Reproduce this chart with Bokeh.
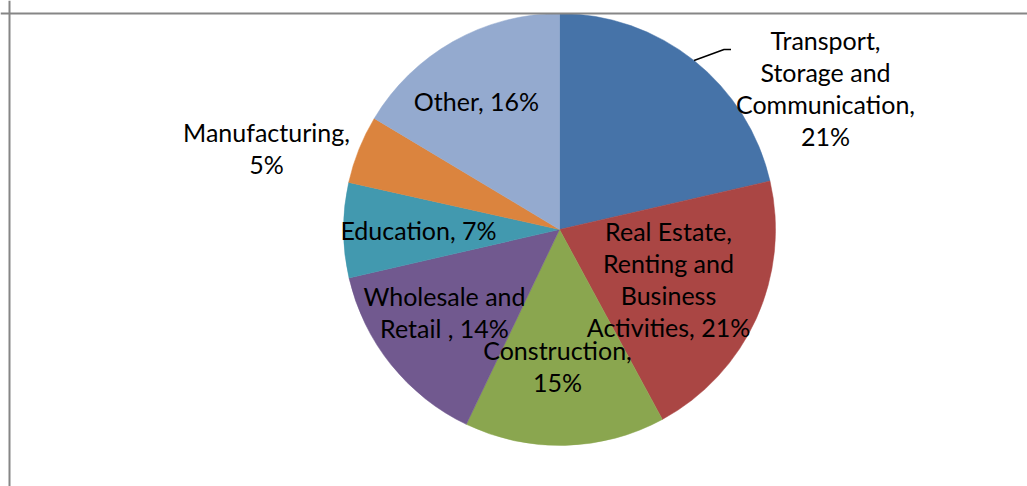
import math
from bokeh.plotting import figure
from bokeh.models import Range1d, ColumnDataSource, Span
from bokeh.core.properties import value
from bokeh.embed import file_html
from bokeh.resources import INLINE

# ---- data ----
categories = ["Transport, Storage and Communication", "Real Estate, Renting and Business Activities",
              "Construction", "Wholesale and Retail ", "Education", "Manufacturing", "Other"]
shares = [21.4, 20.7, 15.0, 14.3, 7.1, 5.1, 16.4]
label_lines = [["Transport,", "Storage and", "Communication,", "21%"],
               ["Real Estate,", "Renting and", "Business", "Activities, 21%"],
               ["Construction,", "15%"],
               ["Wholesale and", "Retail , 14%"],
               ["Education, 7%"],
               ["Manufacturing,", "5%"],
               ["Other, 16%"]]
colors = ["#4673A8", "#AA4644", "#8AA64F", "#71598F", "#4299AF", "#DB843E", "#94AACF"]

# ---- layout (pixels) ----
W, H = 1027, 486
cx, cy, R = 559, 257, 216
label_offsets = [(266, 142), (109, -49), (-2, -136), (-115, -82), (-141, 0), (-293, 82), (-83, 129)]
line_gap = 32

p = figure(width=W, height=H, output_backend="svg", toolbar_location=None,
           x_range=Range1d(0, W), y_range=Range1d(0, H), min_border=0)
p.axis.visible = False
p.grid.visible = False
p.outline_line_color = None

total = sum(shares)
starts, ends, mids = [], [], []
c = 0.0
for s in shares:
    a0 = math.pi / 2 - 2 * math.pi * c / total
    c += s
    a1 = math.pi / 2 - 2 * math.pi * c / total
    starts.append(a0); ends.append(a1); mids.append((a0 + a1) / 2)

src = ColumnDataSource(dict(x=[cx] * len(shares), y=[cy] * len(shares),
                            start=starts, end=ends, color=colors, cat=categories))
p.wedge(x="x", y="y", radius=R, start_angle="start", end_angle="end",
        direction="clock", fill_color="color", line_color="color", line_width=0.5, source=src)

# leader line for the first (outside) label
m = mids[0]
ex, ey = cx + R * math.cos(m), cy + R * math.sin(m)
p.line([ex, ex + 30, ex + 37], [ey, ey + 11, ey + 11], line_color="black", line_width=1.5)

tx, ty, tt = [], [], []
for lines, (dx, dy) in zip(label_lines, label_offsets):
    n = len(lines)
    for i, t in enumerate(lines):
        tx.append(cx + dx)
        ty.append(cy + dy + (n - 1) / 2 * line_gap - i * line_gap)
        tt.append(t)
p.text(x=tx, y=ty, text=tt, text_align="center", text_baseline="middle",
       text_font=value("Lato"), text_font_size="25px", text_color="black")

# chart frame (top and left edges visible)
p.add_layout(Span(location=H - 13, dimension="width", line_color="#868686", line_width=2))
p.add_layout(Span(location=9, dimension="height", line_color="#868686", line_width=2))

open("out.html", "w").write(file_html(p, INLINE))
